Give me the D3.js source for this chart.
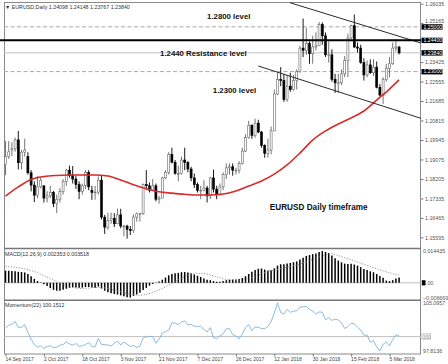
<!DOCTYPE html>
<html><head><meta charset="utf-8">
<script src="https://cdn.jsdelivr.net/npm/d3@7"></script>
<style>
html,body{margin:0;padding:0;background:#fff;}
svg{display:block;font-family:"Liberation Sans",Arial,sans-serif;}
</style></head><body>
<svg id="c" width="448" height="364"></svg>
<script>
// ---------- DATA ----------
const dates = ["2017-09-14","2017-09-15","2017-09-18","2017-09-19","2017-09-20","2017-09-21","2017-09-22","2017-09-25","2017-09-26","2017-09-27","2017-09-28","2017-09-29",
"2017-10-02","2017-10-03","2017-10-04","2017-10-05","2017-10-06","2017-10-09","2017-10-10","2017-10-11","2017-10-12","2017-10-13","2017-10-16","2017-10-17","2017-10-18","2017-10-19","2017-10-20","2017-10-23","2017-10-24","2017-10-25","2017-10-26","2017-10-27","2017-10-30","2017-10-31",
"2017-11-01","2017-11-02","2017-11-03","2017-11-06","2017-11-07","2017-11-08","2017-11-09","2017-11-10","2017-11-13","2017-11-14","2017-11-15","2017-11-16","2017-11-17","2017-11-20","2017-11-21","2017-11-22","2017-11-23","2017-11-24","2017-11-27","2017-11-28","2017-11-29","2017-11-30",
"2017-12-01","2017-12-04","2017-12-05","2017-12-06","2017-12-07","2017-12-08","2017-12-11","2017-12-12","2017-12-13","2017-12-14","2017-12-15","2017-12-18","2017-12-19","2017-12-20","2017-12-21","2017-12-22","2017-12-26","2017-12-27","2017-12-28","2017-12-29",
"2018-01-02","2018-01-03","2018-01-04","2018-01-05","2018-01-08","2018-01-09","2018-01-10","2018-01-11","2018-01-12","2018-01-15","2018-01-16","2018-01-17","2018-01-18","2018-01-19","2018-01-22","2018-01-23","2018-01-24","2018-01-25","2018-01-26","2018-01-29","2018-01-30","2018-01-31",
"2018-02-01","2018-02-02","2018-02-05","2018-02-06","2018-02-07","2018-02-08","2018-02-09","2018-02-12","2018-02-13","2018-02-14","2018-02-15","2018-02-16","2018-02-19","2018-02-20","2018-02-21","2018-02-22","2018-02-23","2018-02-26","2018-02-27","2018-02-28",
"2018-03-01","2018-03-02","2018-03-05","2018-03-06","2018-03-07","2018-03-08"];

const open = [1.1885,1.1920,1.1950,1.1955,1.1995,1.1893,1.1940,1.1920,1.1848,1.1793,1.1748,1.1785,
1.1790,1.1735,1.1745,1.1760,1.1710,1.1730,1.1765,1.1810,1.1860,1.1835,1.1820,1.1795,1.1765,1.1790,1.1850,1.1770,1.1760,1.1762,1.1815,1.1650,1.1605,1.1635,
1.1645,1.1620,1.1660,1.1610,1.1610,1.1595,1.1590,1.1650,1.1665,1.1665,1.1795,1.1790,1.1770,1.1790,1.1730,1.1735,1.1825,1.1850,1.1930,1.1895,1.1845,1.1845,
1.1905,1.1895,1.1865,1.1825,1.1795,1.1770,1.1770,1.1780,1.1745,1.1825,1.1775,1.1750,1.1785,1.1840,1.1870,1.1875,1.1860,1.1860,1.1890,1.1945,
1.2005,1.2060,1.2015,1.2070,1.2030,1.1970,1.1935,1.1950,1.2035,1.2200,1.2265,1.2260,1.2175,1.2235,1.2220,1.2260,1.2300,1.2405,1.2395,1.2425,1.2380,1.2410,
1.2415,1.2510,1.2460,1.2375,1.2375,1.2265,1.2250,1.2250,1.2290,1.2350,1.2450,1.2505,1.2410,1.2405,1.2340,1.2285,1.2330,1.2295,1.2320,1.2230,
1.2195,1.2265,1.2315,1.2335,1.2405,1.24098];
const high = [1.1990,1.1990,1.1985,1.2005,1.2035,1.1950,1.2000,1.1940,1.1860,1.1810,1.1833,1.1830,
1.1790,1.1766,1.1790,1.1767,1.1750,1.1780,1.1820,1.1866,1.1880,1.1878,1.1835,1.1810,1.1800,1.1860,1.1860,1.1790,1.1790,1.1832,1.1837,1.1660,1.1670,1.1670,
1.1668,1.1688,1.1687,1.1615,1.1616,1.1610,1.1662,1.1670,1.1670,1.1800,1.1860,1.1805,1.1820,1.1800,1.1745,1.1830,1.1860,1.1940,1.1960,1.1905,1.1880,1.1920,
1.1960,1.1900,1.1875,1.1845,1.1805,1.1790,1.1815,1.1790,1.1830,1.1862,1.1790,1.1800,1.1850,1.1890,1.1890,1.1890,1.1870,1.1900,1.1960,1.2020,
1.2080,1.2065,1.2090,1.2085,1.2035,1.1975,1.2000,1.2055,1.2220,1.2295,1.2320,1.2290,1.2285,1.2295,1.2285,1.2310,1.2415,1.2537,1.2495,1.2435,1.2460,1.2475,
1.2522,1.2520,1.2475,1.2435,1.2400,1.2290,1.2290,1.2310,1.2370,1.2470,1.2510,1.2555,1.2430,1.2420,1.2360,1.2350,1.2355,1.2355,1.2345,1.2245,
1.2275,1.2335,1.2365,1.2430,1.2445,1.24148];
const low = [1.1837,1.1910,1.1922,1.1942,1.1863,1.1862,1.1920,1.1840,1.1765,1.1717,1.1735,1.1778,
1.1715,1.1715,1.1735,1.1695,1.1668,1.1715,1.1750,1.1790,1.1826,1.1800,1.1775,1.1730,1.1750,1.1775,1.1770,1.1727,1.1728,1.1750,1.1640,1.1575,1.1593,1.1620,
1.1605,1.1620,1.1600,1.1565,1.1554,1.1570,1.1580,1.1630,1.1630,1.1660,1.1770,1.1760,1.1770,1.1720,1.1710,1.1735,1.1820,1.1840,1.1890,1.1840,1.1810,1.1840,
1.1860,1.1850,1.1810,1.1780,1.1760,1.1730,1.1765,1.1715,1.1730,1.1760,1.1730,1.1745,1.1770,1.1820,1.1840,1.1835,1.1840,1.1845,1.1885,1.1940,
1.2000,1.2000,1.2005,1.2025,1.1960,1.1915,1.1915,1.1930,1.2035,1.2195,1.2235,1.2165,1.2165,1.2210,1.2215,1.2220,1.2295,1.2365,1.2375,1.2335,1.2335,1.2395,
1.2415,1.2420,1.2365,1.2340,1.2255,1.2205,1.2205,1.2240,1.2275,1.2275,1.2445,1.2405,1.2385,1.2335,1.2260,1.2275,1.2290,1.2280,1.2225,1.2190,
1.2155,1.2255,1.2275,1.2330,1.2390,1.23767];
const close = [1.1920,1.1942,1.1955,1.1995,1.1893,1.1940,1.1950,1.1848,1.1793,1.1748,1.1785,1.1815,
1.1735,1.1745,1.1760,1.1710,1.1730,1.1765,1.1810,1.1860,1.1835,1.1820,1.1795,1.1765,1.1790,1.1850,1.1785,1.1760,1.1762,1.1815,1.1650,1.1605,1.1635,1.1645,
1.1620,1.1660,1.1610,1.1610,1.1595,1.1590,1.1650,1.1665,1.1665,1.1795,1.1790,1.1770,1.1790,1.1730,1.1735,1.1825,1.1850,1.1930,1.1895,1.1845,1.1845,1.1905,
1.1895,1.1865,1.1825,1.1795,1.1770,1.1770,1.1780,1.1745,1.1825,1.1775,1.1750,1.1785,1.1840,1.1870,1.1875,1.1860,1.1860,1.1890,1.1945,1.2005,
1.2060,1.2015,1.2070,1.2030,1.1970,1.1935,1.1950,1.2035,1.2200,1.2265,1.2260,1.2175,1.2235,1.2220,1.2260,1.2300,1.2405,1.2395,1.2425,1.2380,1.2410,1.2415,
1.2510,1.2460,1.2375,1.2375,1.2265,1.2250,1.2250,1.2290,1.2350,1.2450,1.2505,1.2410,1.2405,1.2340,1.2285,1.2330,1.2295,1.2320,1.2230,1.2195,
1.2265,1.2315,1.2335,1.2405,1.2410,1.23840];

// moving average (red), read at every 4th bar
const maBars   = [0,4,8,12,16,20,24,28,32,36,40,44,48,52,56,60,64,68,72,76,80,84,88,92,96,100,104,108,112,116,120,123];
const maValues = [1.1744,1.1785,1.1818,1.1831,1.1836,1.1838,1.1838,1.1838,1.1834,1.1816,1.1795,1.1777,1.1763,1.1757,1.1752,1.1749,1.1749,1.1753,1.1767,1.1789,1.1811,1.1842,1.1883,1.1936,1.1994,1.2035,1.2066,1.2093,1.2124,1.2173,1.2222,1.2263];

// MACD histogram per bar
const macdHist = [0.0055,0.0055,0.0054,0.0053,0.0050,0.0049,0.0047,0.0040,0.0030,0.0018,0.0008,0.0002,
-0.0006,-0.0014,-0.0024,-0.0032,-0.0036,-0.0036,-0.0032,-0.0027,-0.0023,-0.0021,-0.0021,-0.0023,-0.0022,-0.0019,-0.0019,-0.0021,-0.0022,-0.0017,-0.0026,-0.0036,-0.0043,-0.0047,
-0.0051,-0.0053,-0.0057,-0.0061,-0.0065,-0.006669,-0.0060,-0.0053,-0.0045,-0.0033,-0.0023,-0.0013,-0.0005,0.0001,0.0006,0.0014,0.0024,0.0034,0.0040,0.0043,0.0045,0.0048,
0.0049,0.0047,0.0043,0.0038,0.0032,0.0026,0.0020,0.0014,0.0012,0.0008,0.0005,0.0005,0.0008,0.0012,0.0014,0.0015,0.0015,0.0017,0.0022,0.0030,
0.0040,0.0050,0.0058,0.0064,0.0065,0.0060,0.0056,0.0057,0.0066,0.0078,0.0084,0.0084,0.0088,0.0090,0.0093,0.0097,0.0106,0.0114,0.0122,0.0126,0.0130,0.0133,
0.0140,0.014435,0.0140,0.0135,0.0124,0.0112,0.0101,0.0093,0.0087,0.0085,0.0087,0.0083,0.0078,0.0071,0.0063,0.0058,0.0052,0.0048,0.0040,0.0031,
0.0023,0.0010,0.0008,0.0012,0.0020,0.002353];
// MACD signal (dotted), read at every 2nd bar
const signalBars = [0,2,4,6,8,10,12,14,16,18,20,22,24,26,28,30,32,34,36,38,40,42,44,46,48,50,52,54,56,58,60,62,64,66,68,70,72,74,76,78,80,82,84,86,88,90,92,94,96,98,100,102,104,106,108,110,112,114,116,118,120,122,123];
const signalValues = [0.0075,0.0072,0.0068,0.0063,0.0056,0.0046,0.0033,0.0019,0.0005,-0.0008,-0.0018,-0.0024,-0.0026,-0.0024,-0.0021,-0.0021,-0.0026,-0.0033,-0.0041,-0.0049,-0.0055,-0.0057,-0.0053,-0.0044,-0.0032,-0.0018,-0.0003,0.0014,0.0028,0.0038,0.0043,0.0042,0.0036,0.0027,0.0018,0.0012,0.0011,0.0013,0.0019,0.0029,0.0041,0.0051,0.0058,0.0064,0.0071,0.0078,0.0085,0.0095,0.0106,0.0117,0.0127,0.0133,0.0124,0.0114,0.0104,0.0094,0.0084,0.0074,0.0064,0.0054,0.0045,0.0038,0.003518];

// Momentum(22) per bar
const momentum = [101.3,101.7,101.9,102.3,101.4,101.4,101.8,100.6,99.6,98.8,98.4,98.6,
98.2,98.5,98.6,98.3,98.4,98.7,98.8,99.2,98.9,98.7,98.95,98.52,98.62,98.79,99.09,98.49,98.43,99.72,98.79,98.78,98.73,98.56,
99.02,99.28,98.72,99.15,98.85,98.51,98.65,98.36,98.56,99.79,99.96,100.04,100.0,98.99,99.58,100.55,100.75,100.97,102.10,102.07,101.80,102.23,
102.37,101.76,101.85,101.59,101.51,101.55,101.12,100.69,101.37,99.83,99.66,100.13,100.42,101.19,101.19,100.30,100.08,99.66,100.42,101.35,
101.82,100.92,101.47,101.39,101.23,101.19,101.53,102.25,103.57,105.0957,103.68,103.40,104.13,103.69,103.85,103.92,104.46,104.51,104.56,104.12,103.89,103.42,
103.73,103.70,102.53,102.87,102.46,102.64,102.51,102.12,101.23,101.51,102.00,101.93,101.39,100.98,100.20,100.24,99.11,99.39,98.43,97.8136,
98.83,99.19,98.60,99.56,100.28,100.1512];

const priceTicks = [1.26035,1.25165,1.23425,1.22555,1.21685,1.20815,1.19945,1.19075,1.18205,1.17335,1.16465,1.15595];
const markedLevels = [1.25000,1.24400,1.23840,1.23000];
const dateTickBars = [0,12,24,36,48,60,72,84,96,108,120];
const dateTickLabels = ["14 Sep 2017","2 Oct 2017","18 Oct 2017","3 Nov 2017","21 Nov 2017","7 Dec 2017","26 Dec 2017","12 Jan 2018","30 Jan 2018","15 Feb 2018","5 Mar 2018"];

const resistanceLevel = 1.2440;
const dashedLevels = [1.2500, 1.2300];
const bidLevel = 1.23840;
const upperChannel = [[88.9,1.26078],[129.8,1.24278]];
const lowerChannel = [[79.0,1.23250],[129.8,1.20913]];
const annotations = [
  {text:"1.2800 level", bar:63.0, price:1.2537, size:7.8},
  {text:"1.2440 Resistance level", bar:48.3, price:1.2371, size:7.8},
  {text:"1.2300 level", bar:64.8, price:1.2205, size:7.8},
  {text:"EURUSD Daily timeframe", bar:82.6, price:1.1680, size:8.2}
];
const headerText = "\u25BC EURUSD,Daily  1.24098 1.24148 1.23767 1.23840";
const macdTitle = "MACD(12,26,9) 0.002353 0.003518";
const momTitle = "Momentum(22) 100.1512";

// ---------- LAYOUT ----------
const svg = d3.select("#c");
const L = 4, R = 421;
const mainTop = 3, mainBot = 248, macdTop = 251, macdBot = 297.5, momTop = 303, momBot = 351, frameBot = 354;

const x = d3.scaleLinear().domain([0, 123]).range([5.5, 399.1]);
const y = d3.scaleLinear().domain([1.1512, 1.26065]).range([mainBot, mainTop]);
const yM = d3.scaleLinear().domain([-0.006669, 0.014435]).range([macdBot, macdTop]);
const yP = d3.scaleLinear().domain([97.8136, 105.0957]).range([momBot, momTop]);

const defs = svg.append("defs");
defs.append("clipPath").attr("id","clipMain").append("rect").attr("x",L).attr("y",2).attr("width",R-L).attr("height",mainBot-2);

// frame
svg.append("rect").attr("x",L+0.5).attr("y",2.5).attr("width",R-L-1).attr("height",frameBot-2.5).attr("fill","none").attr("stroke","#8a8a8a").attr("stroke-width",1);
svg.append("line").attr("x1",L).attr("x2",R).attr("y1",mainBot+0.5).attr("y2",mainBot+0.5).attr("stroke","#777").attr("stroke-width",1.5);
svg.append("line").attr("x1",L).attr("x2",R).attr("y1",300.3).attr("y2",300.3).attr("stroke","#777").attr("stroke-width",1.5);

const main = svg.append("g").attr("clip-path","url(#clipMain)");

// level lines
main.selectAll("line.dash").data(dashedLevels).join("line")
  .attr("x1",L).attr("x2",R).attr("y1",d=>y(d)).attr("y2",d=>y(d))
  .attr("stroke","#a9a9a9").attr("stroke-width",1).attr("stroke-dasharray","4,2.5");
main.append("line").attr("x1",L).attr("x2",R).attr("y1",y(bidLevel)).attr("y2",y(bidLevel)).attr("stroke","#c4c4c4").attr("stroke-width",1);

// candles
const idx = d3.range(close.length);
main.selectAll("line.wick").data(idx).join("line")
  .attr("x1",i=>x(i)).attr("x2",i=>x(i)).attr("y1",i=>y(high[i])).attr("y2",i=>y(low[i]))
  .attr("stroke",i=>close[i]>=open[i]?"#666":"#000").attr("stroke-width",0.9);
main.selectAll("rect.body").data(idx).join("rect")
  .attr("x",i=>x(i)-1).attr("width",2)
  .attr("y",i=>y(Math.max(open[i],close[i])))
  .attr("height",i=>Math.max(0.8, Math.abs(y(open[i])-y(close[i]))))
  .attr("fill",i=>close[i]>=open[i]?"#fff":"#000")
  .attr("stroke",i=>close[i]>=open[i]?"#666":"#000").attr("stroke-width",0.6);

// moving average
main.append("path").datum(maBars.map((b,k)=>[b,maValues[k]]))
  .attr("d",d3.line().x(d=>x(d[0])).y(d=>y(d[1])).curve(d3.curveMonotoneX))
  .attr("fill","none").attr("stroke","#d92a2a").attr("stroke-width",1.6);

// channel lines
[upperChannel, lowerChannel].forEach(c=>{
  main.append("line").attr("x1",x(c[0][0])).attr("y1",y(c[0][1])).attr("x2",x(c[1][0])).attr("y2",y(c[1][1]))
    .attr("stroke","#2a2a2a").attr("stroke-width",1);
});

// resistance thick line (extends to left edge)
svg.append("line").attr("x1",0).attr("x2",R).attr("y1",y(resistanceLevel)).attr("y2",y(resistanceLevel))
  .attr("stroke","#000").attr("stroke-width",2);

// annotations
svg.selectAll("text.ann").data(annotations).join("text")
  .attr("x",d=>x(d.bar)).attr("y",d=>y(d.price)).attr("font-size",d=>d.size).attr("font-weight","bold")
  .attr("fill","#111").text(d=>d.text);

// header
svg.append("text").attr("x",5).attr("y",9).attr("font-size",5.3).attr("fill","#333").text(headerText);

// price axis
const pa = svg.append("g").attr("transform",`translate(${R},0)`)
  .call(d3.axisRight(y).tickValues(priceTicks).tickSize(2.5).tickPadding(1.5).tickFormat(d3.format(".5f")));
pa.select(".domain").remove();
pa.selectAll("line").attr("stroke","#777");
pa.selectAll("text").attr("font-size",5.3).attr("fill","#555").attr("font-family","Liberation Sans, Arial, sans-serif")
  .attr("dy",d=>d===1.25165?"-0.15em":"0.32em");

// marked level boxes
const mk = svg.selectAll("g.mk").data(markedLevels).join("g").attr("transform",d=>`translate(${R+0.5},${y(d)})`);
mk.append("rect").attr("x",0).attr("y",-2.6).attr("width",21).attr("height",5.4).attr("fill","#000");
mk.append("text").attr("x",2).attr("y",1.8).attr("font-size",5.2).attr("fill","#fff").text(d=>d3.format(".5f")(d));

// MACD panel
svg.append("line").attr("x1",L).attr("x2",R).attr("y1",yM(0)).attr("y2",yM(0)).attr("stroke","#c0c0c0").attr("stroke-width",1);
svg.selectAll("line.hist").data(idx).join("line")
  .attr("x1",i=>x(i)).attr("x2",i=>x(i)).attr("y1",yM(0)).attr("y2",i=>yM(macdHist[i]))
  .attr("stroke","#000").attr("stroke-width",1.5);
svg.append("path").datum(signalBars.map((b,k)=>[b,signalValues[k]]))
  .attr("d",d3.line().x(d=>x(d[0])).y(d=>yM(d[1])))
  .attr("fill","none").attr("stroke","#8c8c8c").attr("stroke-width",0.9).attr("stroke-dasharray","1.2,1.5");
svg.append("text").attr("x",5).attr("y",256).attr("font-size",5.3).attr("fill","#333").text(macdTitle);
const ma = svg.append("g").attr("transform",`translate(${R},0)`)
  .call(d3.axisRight(yM).tickValues([0.014435,0,-0.006669]).tickSize(0).tickPadding(2)
    .tickFormat(d=>d===0?"0.00":d3.format(".6f")(d)));
ma.select(".domain").remove();
ma.selectAll("text").attr("font-size",5.3).attr("fill","#555").attr("font-family","Liberation Sans, Arial, sans-serif");
svg.append("rect").attr("x",R+0.8).attr("y",yM(0)-2.6).attr("width",3.6).attr("height",5.2).attr("fill","#000");

// Momentum panel
svg.append("line").attr("x1",L).attr("x2",R).attr("y1",yP(100)).attr("y2",yP(100)).attr("stroke","#c0c0c0").attr("stroke-width",1);
svg.append("path").datum(momentum)
  .attr("d",d3.line().x((d,i)=>x(i)).y(d=>yP(d)))
  .attr("fill","none").attr("stroke","#7fb3dd").attr("stroke-width",0.9);
svg.append("text").attr("x",5).attr("y",307).attr("font-size",5.3).attr("fill","#333").text(momTitle);
const mo = svg.append("g").attr("transform",`translate(${R},0)`)
  .call(d3.axisRight(yP).tickValues([105.0957,97.8136]).tickSize(0).tickPadding(2).tickFormat(d3.format(".4f")));
mo.select(".domain").remove();
mo.selectAll("text").attr("font-size",5.3).attr("fill","#555").attr("font-family","Liberation Sans, Arial, sans-serif");
svg.append("rect").attr("x",R+0.8).attr("y",yP(100)-3).attr("width",9).attr("height",6).attr("fill","#e8e8e8").attr("stroke","#bbb").attr("stroke-width",0.5);
svg.append("text").attr("x",R+1.8).attr("y",yP(100)+2).attr("font-size",5).attr("fill","#aaa").text("100");

// date axis
const da = svg.append("g").attr("transform",`translate(0,${frameBot})`)
  .call(d3.axisBottom(x).tickValues(dateTickBars).tickSize(2.5).tickPadding(1).tickFormat((d,i)=>dateTickLabels[i]));
da.select(".domain").remove();
da.selectAll("line").attr("stroke","#777");
da.selectAll("text").attr("text-anchor","start").attr("x",-0.5).attr("font-size",5).attr("fill","#444")
  .attr("font-family","Liberation Sans, Arial, sans-serif");
</script>
</body></html>
